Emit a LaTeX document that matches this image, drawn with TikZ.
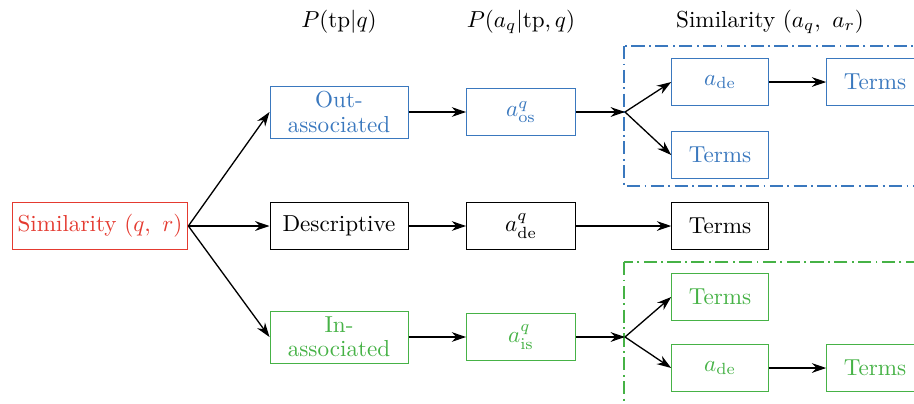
\documentclass[tikz,border=0pt]{standalone}
\usetikzlibrary{math,arrows.meta}

\definecolor{simred}{RGB}{228,58,48}
\definecolor{outblue}{RGB}{58,120,190}
\definecolor{ingreen}{RGB}{70,178,70}

\begin{document}
\begin{tikzpicture}[x=0.0152cm, y=-0.0152cm,
	box/.style={draw, inner sep=1pt, minimum height=20.3pt, anchor=center},
	wide/.style={box, minimum width=59.7pt, minimum height=22.5pt, align=center},
	abox/.style={box, minimum width=47.1pt},
	termbox/.style={box, minimum width=41.8pt},
	arr/.style={-{Stealth[length=6.2pt,width=4.2pt]}, line width=0.57pt},
	group/.style={dash pattern=on 5.7pt off 1.9pt on 0.8pt off 1.9pt, line width=0.5pt}]
	% Constants
	\tikzmath{\colA = 339; \colB = 521; \colC = 720; \colD = 875; \split = 625;
		\rowUp = 112; \rowMid = 226; \rowLow = 337;}

	\useasboundingbox (0,0) rectangle (914,403);
	\clip (0,0) rectangle (914,403);

	% Headers
	\node (hdtp) at (\colA, 22) {$P(\mathrm{tp}|q)$};
	\node (hdaq) at (\colB, 22) {$P(a_q|\mathrm{tp},q)$};
	\node (hdsim) at (770, 22) {Similarity $(a_q,\ a_r)$};

	% Source
	\node[box, simred, minimum width=76pt] (src) at (100, \rowMid) {Similarity $(q,\ r)$};

	% Term types
	\node[wide, outblue] (out) at (\colA, \rowUp) {Out-\\[-1.5pt]associated};
	\node[box, minimum width=59.7pt] (desc) at (\colA, \rowMid) {Descriptive};
	\node[wide, ingreen] (in) at (\colA, \rowLow) {In-\\[-1.5pt]associated};

	\draw[arr] (src.east) -- (out.west);
	\draw[arr] (src.east) -- (desc.west);
	\draw[arr] (src.east) -- (in.west);

	% Answer types
	\node[abox, outblue] (aos) at (\colB, \rowUp) {$a^q_{\mathrm{os}}$};
	\node[abox] (ade) at (\colB, \rowMid) {$a^q_{\mathrm{de}}$};
	\node[abox, ingreen] (ais) at (\colB, \rowLow) {$a^q_{\mathrm{is}}$};

	\draw[arr] (out.east) -- (aos.west);
	\draw[arr] (desc.east) -- (ade.west);
	\draw[arr] (in.east) -- (ais.west);

	% Out-associated group
	\draw[group, outblue] (624, 46) rectangle (935, 186);
	\coordinate (osplit) at (\split, \rowUp);
	\node[termbox, outblue] (osde) at (\colC, 82) {$a_{\mathrm{de}}$};
	\node[termbox, outblue] (osterms) at (\colD, 82) {Terms};
	\node[termbox, outblue] (osdirect) at (\colC, 155) {Terms};
	\draw[arr] (aos.east) -- (osplit);
	\draw[arr] (osplit) -- (osde.west);
	\draw[arr] (osplit) -- (osdirect.west);
	\draw[arr] (osde.east) -- (osterms.west);

	% Descriptive
	\node[termbox] (determs) at (\colC, \rowMid) {Terms};
	\draw[arr] (ade.east) -- (determs.west);

	% In-associated group
	\draw[group, ingreen] (624, 262) rectangle (935, 420);
	\coordinate (isplit) at (\split, \rowLow);
	\node[termbox, ingreen] (isdirect) at (\colC, 297) {Terms};
	\node[termbox, ingreen] (isde) at (\colC, 368) {$a_{\mathrm{de}}$};
	\node[termbox, ingreen] (isterms) at (\colD, 368) {Terms};
	\draw[arr] (ais.east) -- (isplit);
	\draw[arr] (isplit) -- (isdirect.west);
	\draw[arr] (isplit) -- (isde.west);
	\draw[arr] (isde.east) -- (isterms.west);
\end{tikzpicture}
\end{document}
